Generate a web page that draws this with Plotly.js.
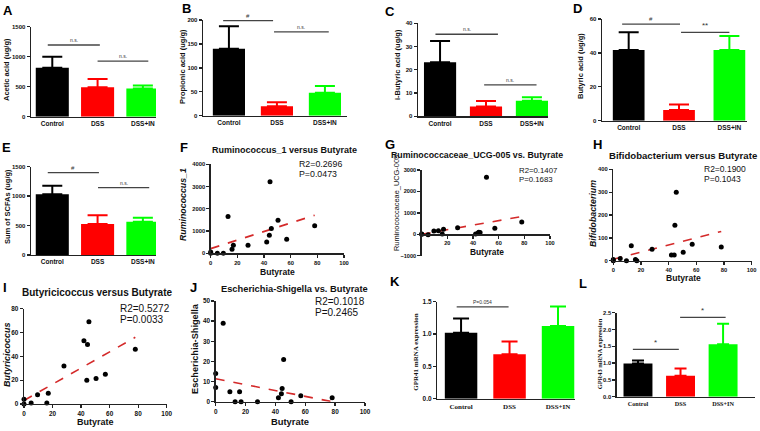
<!DOCTYPE html>
<html><head><meta charset="utf-8">
<script src="https://cdn.plot.ly/plotly-3.0.1.min.js"></script>
<style>html,body{margin:0;padding:0;background:#fff;}</style>
</head><body>
<div id="chart" style="width:760px;height:431px;"></div>
<script>
// ================= DATA =================
const groups = ['Control', 'DSS', 'DSS+IN'];
const groupColors = ['#000000', '#ff0000', '#00ff00'];

const aceticMean = [817, 489, 472];
const aceticSD = [183, 139, 50];
const propionicMean = [140, 20, 48];
const propionicSD = [47, 8, 14];
const isobutyricMean = [23.2, 4.2, 6.7];
const isobutyricSD = [9.2, 2.4, 1.5];
const butyricMean = [41.7, 6.3, 41.7];
const butyricSD = [10.5, 3.3, 8.3];
const scfaMean = [1030, 526, 566];
const scfaSD = [147, 148, 68];
const gpr41Mean = [1.02, 0.686, 1.124];
const gpr41SD = [0.22, 0.20, 0.30];
const gpr43Mean = [0.99, 0.625, 1.56];
const gpr43SD = [0.09, 0.215, 0.61];

// significance brackets: [fromIndex, toIndex, yValue, label]
const sigAcetic = [[-0.1, 1.05, 1195, 'n.s.'], [1.0, 2.12, 927, 'n.s.']];
const sigPropionic = [[-0.12, 0.92, 198.5, '#'], [0.94, 2.08, 175, 'n.s.']];
const sigIsobutyric = [[-0.1, 1.26, 35.3, 'n.s.'], [0.96, 2.1, 13.5, 'n.s.']];
const sigButyric = [[-0.13, 1.02, 57, '#'], [1.04, 2.0, 52.1, '**']];
const sigScfa = [[-0.1, 1.03, 1398, '#'], [1.01, 2.14, 1143, 'n.s.']];
const sigGpr41 = [[-0.09, 0.98, 1.42, 'P=0.054'], [0.98, 2.04, 1.526, '*']];
const sigGpr43 = [[-0.12, 0.96, 1.41, '*'], [0.99, 2.06, 2.36, '*']];

const butyrate = [0, 0, 5, 9.5, 13, 16, 17, 28, 42, 44, 44.5, 45.5, 50.5, 57, 78];
const ruminococcus1 = [0, 60, 0, 0, 1650, 180, 360, 360, 510, 810, 3220, 1110, 1480, 630, 1240];
const ucg005 = [10, 0, -20, 155, 170, 15, 230, 310, 15, 60, 90, 80, 2660, 280, 575];
const bifidobacterium = [0, 5, 10, 0, 65, 5, 0, 50, 25, 25, 155, 300, 37, 72, 60];
const butyricicoccus = [4, 0, 0.8, 7.8, null, 0.8, 9, 32, 53, 20, 50, 69, 21.5, 25, 46];
const escherichia = [14, 7, 39, 5, 0, 5, 0, 0, 2, 4, 6.6, 21, 0, 3, 2];

const fitX = [0, 78];
const fitRuminococcus1 = [210, 1710];
const fitUcg005 = [0, 830];
const fitBifidobacterium = [6, 128];
const fitButyricicoccus = [3, 56];
const fitEscherichia = [11.4, 0];

const statsRuminococcus1 = ['R2=0.2696', 'P=0.0473'];
const statsUcg005 = ['R2=0.1407', 'P=0.1683'];
const statsBifidobacterium = ['R2=0.1900', 'P=0.1043'];
const statsButyricicoccus = ['R2=0.5272', 'P=0.0033'];
const statsEscherichia = ['R2=0.1018', 'P=0.2465'];

const panelLetters = ['A', 'B', 'C', 'D', 'E', 'F', 'G', 'H', 'I', 'J', 'K', 'L'];

// ================= LAYOUT HELPERS =================
const W = 760, H = 431;
const SANS = 'Liberation Sans, Arial, sans-serif';
const SERIF = 'Liberation Serif, Times New Roman, serif';
const AX = '#222';
const xd = (a, b) => [a / W, b / W];
const yd = (top, bot) => [1 - bot / H, 1 - top / H];
const px = v => v / W;
const py = v => 1 - v / H;

const traces = [];
const layout = {
  width: W, height: H, margin: {l: 0, r: 0, t: 0, b: 0},
  paper_bgcolor: '#fff', plot_bgcolor: 'rgba(0,0,0,0)',
  showlegend: false, barmode: 'overlay',
  shapes: [], annotations: []
};

function note(text, x, y, size, opts) {
  layout.annotations.push(Object.assign({
    text: text, x: px(x), y: py(y), xref: 'paper', yref: 'paper',
    showarrow: false, xanchor: 'center', yanchor: 'middle',
    font: {family: SANS, size: size, color: '#111', weight: 'bold'}
  }, opts || {}));
}

function barPanel(n, cfg, mean, sd, sig) {
  const xa = 'x' + n, ya = 'y' + n;
  groups.forEach((g, i) => {
    traces.push({
      type: 'bar', x: [g], y: [mean[i]], width: [cfg.bw],
      marker: {color: groupColors[i], line: {width: 0}},
      error_y: {type: 'data', symmetric: false, array: [sd[i]], arrayminus: [0],
        color: groupColors[i], thickness: 2, width: cfg.cap},
      xaxis: xa, yaxis: ya, hoverinfo: 'skip'
    });
  });
  const tf = cfg.serif ? SERIF : SANS;
  layout['xaxis' + n] = {
    domain: xd(cfg.x[0], cfg.x[1]), range: cfg.xr, anchor: ya,
    type: 'category', categoryarray: groups, categoryorder: 'array',
    showline: true, linecolor: AX, linewidth: 1.4, ticks: '', showgrid: false, zeroline: false,
    tickfont: {family: tf, size: cfg.xfs, color: '#111', weight: 'bold'}, fixedrange: true
  };
  layout['yaxis' + n] = {
    domain: yd(cfg.y[0], cfg.y[1]), range: cfg.yr, anchor: xa, dtick: cfg.dtick,
    tickformat: cfg.fmt || '', showline: true, linecolor: AX, linewidth: 1.4,
    ticks: 'outside', ticklen: 3, tickwidth: 1.3, tickcolor: AX,
    showgrid: false, zeroline: false,
    tickfont: {family: SANS, size: cfg.yfs, color: '#111', weight: 'bold'}, fixedrange: true
  };
  sig.forEach(s => {
    layout.shapes.push({type: 'line', xref: xa, yref: ya, x0: s[0], x1: s[1], y0: s[2], y1: s[2],
      line: {color: '#444', width: 1.3}});
    const sz = s[3] === 'n.s.' ? 5 : (s[3] === 'P=0.054' ? 5 : (s[3] === '#' ? 6 : 8));
    layout.annotations.push({text: s[3], xref: xa, yref: ya, x: (s[0] + s[1]) / 2, y: s[2],
      showarrow: false, yanchor: 'bottom', yshift: 0,
      font: {family: SANS, size: sz, color: '#333'}});
  });
  note(cfg.title, cfg.tx, cfg.ty, cfg.tfs, {textangle: -90,
    font: {family: cfg.serif ? SERIF : SANS, size: cfg.tfs, color: '#111', weight: 'bold'}});
}

function scatterPanel(n, cfg, yv, fit, stats) {
  const xa = 'x' + n, ya = 'y' + n;
  traces.push({type: 'scatter', mode: 'lines', x: fitX, y: fit, xaxis: xa, yaxis: ya,
    line: {color: '#d42a2a', width: 1.6, dash: 'dash'}, hoverinfo: 'skip', cliponaxis: false});
  traces.push({type: 'scatter', mode: 'markers', x: butyrate, y: yv, xaxis: xa, yaxis: ya,
    marker: {color: '#000', size: 5}, hoverinfo: 'skip', cliponaxis: false});
  const ydom = yd(cfg.y[0], cfg.y[1]);
  const xaxis = {
    domain: xd(cfg.x[0], cfg.x[1]), range: [0, 100], dtick: 20, anchor: ya,
    showline: true, linecolor: AX, linewidth: 1.4, ticks: 'outside', ticklen: 3, tickwidth: 1.3,
    tickcolor: AX, showgrid: false, zeroline: false,
    tickfont: {family: SANS, size: cfg.fs, color: '#111', weight: 'bold'}, fixedrange: true
  };
  if (cfg.yr[0] < 0) {
    xaxis.anchor = 'free';
    xaxis.position = ydom[0] + (0 - cfg.yr[0]) / (cfg.yr[1] - cfg.yr[0]) * (ydom[1] - ydom[0]);
    xaxis.tickvals = [20, 40, 60, 80, 100];
  }
  layout['xaxis' + n] = xaxis;
  layout['yaxis' + n] = {
    domain: ydom, range: cfg.yr, dtick: cfg.dtick, anchor: xa,
    showline: true, linecolor: AX, linewidth: 1.4, ticks: 'outside', ticklen: 3, tickwidth: 1.3,
    tickcolor: AX, showgrid: false, zeroline: false,
    tickfont: {family: SANS, size: cfg.fs, color: '#111', weight: 'bold'}, fixedrange: true
  };
  note(cfg.title, cfg.titleX, cfg.titleY, cfg.titleSize);
  note('Butyrate', cfg.xtX, cfg.xtY, cfg.xtSize);
  note(cfg.ytitle, cfg.ytX, cfg.ytY, cfg.ytSize, {textangle: -90,
    font: {family: SANS, size: cfg.ytSize, color: '#111', weight: cfg.ytWeight || 'bold',
      style: cfg.ytItalic ? 'italic' : 'normal'}});
  note(stats[0], cfg.sx, cfg.sy[0], cfg.ss, {xanchor: 'left',
    font: {family: SANS, size: cfg.ss, color: '#111'}});
  note(stats[1], cfg.sx, cfg.sy[1], cfg.ss, {xanchor: 'left',
    font: {family: SANS, size: cfg.ss, color: '#111'}});
}

// ================= PANELS =================
barPanel(1, {x: [31, 156], y: [26.7, 116.7], xr: [-0.47, 2.29], yr: [0, 1500], dtick: 500,
  bw: 0.73, cap: 10, xfs: 6.5, yfs: 6, title: 'Acetic acid (ug/g)', tx: 7, ty: 70, tfs: 7.5},
  aceticMean, aceticSD, sigAcetic);
barPanel(2, {x: [203, 347], y: [20, 115.7], xr: [-0.54, 2.46], yr: [0, 200], dtick: 50,
  bw: 0.67, cap: 10, xfs: 6.5, yfs: 6, title: 'Propionic acid (ug/g)', tx: 183, ty: 67, tfs: 7.5},
  propionicMean, propionicSD, sigPropionic);
barPanel(3, {x: [418, 548], y: [23.3, 116.3], xr: [-0.48, 2.35], yr: [0, 40], dtick: 10,
  bw: 0.7, cap: 10, xfs: 6.5, yfs: 6, title: 'i-Butyric acid (ug/g)', tx: 398, ty: 65, tfs: 7.5},
  isobutyricMean, isobutyricSD, sigIsobutyric);
barPanel(4, {x: [602, 747], y: [19, 120.7], xr: [-0.53, 2.35], yr: [0, 60], dtick: 20,
  bw: 0.63, cap: 10, xfs: 6.5, yfs: 6, title: 'Butyric acid (ug/g)', tx: 580, ty: 66, tfs: 7.5},
  butyricMean, butyricSD, sigButyric);
barPanel(5, {x: [31, 156], y: [166.7, 255], xr: [-0.47, 2.29], yr: [0, 1500], dtick: 500,
  bw: 0.73, cap: 10, xfs: 6.5, yfs: 6, title: 'Sum of SCFAs (ug/g)', tx: 7, ty: 207, tfs: 7.5},
  scfaMean, scfaSD, sigScfa);
barPanel(11, {x: [437.3, 575], y: [301.7, 398.7], xr: [-0.49, 2.35], yr: [0, 1.5], dtick: 0.5, fmt: '.1f',
  bw: 0.67, cap: 8, xfs: 7, yfs: 6.5, serif: true, title: 'GPR41 mRNA expression', tx: 415.7, ty: 352, tfs: 7},
  gpr41Mean, gpr41SD, sigGpr41);
barPanel(12, {x: [616.7, 755], y: [312.7, 396.7], xr: [-0.5, 2.75], yr: [0, 2.5], dtick: 0.5, fmt: '.1f',
  bw: 0.68, cap: 6, xfs: 6.2, yfs: 5.8, serif: true, title: 'GPR43 mRNA expression', tx: 599.3, ty: 354, tfs: 6.4},
  gpr43Mean, gpr43SD, sigGpr43);

scatterPanel(6, {x: [210.7, 344], y: [164.3, 253.3], yr: [0, 4000], dtick: 1000, fs: 5.8,
  title: 'Ruminococcus_1 versus Butyrate', titleX: 284, titleY: 150, titleSize: 9,
  xtX: 277, xtY: 271.7, xtSize: 8.6, ytitle: 'Ruminococcus_1', ytX: 183, ytY: 205, ytSize: 8.8, ytItalic: true,
  sx: 297, sy: [164, 174.5], ss: 8.8}, ruminococcus1, fitRuminococcus1, statsRuminococcus1);
scatterPanel(7, {x: [421.7, 550], y: [170, 255.7], yr: [-1000, 3000], dtick: 1000, fs: 5.6,
  title: 'Ruminococcaceae_UCG-005 vs. Butyrate', titleX: 477, titleY: 155, titleSize: 8.8,
  xtX: 487, xtY: 251.7, xtSize: 8.4, ytitle: 'Ruminococcaceae_UCG-005', ytX: 397, ytY: 203, ytSize: 7.4, ytWeight: 'normal',
  sx: 517, sy: [170.5, 179.5], ss: 7.8}, ucg005, fitUcg005, statsUcg005);
scatterPanel(8, {x: [613.3, 751.7], y: [169.3, 260.7], yr: [0, 400], dtick: 100, fs: 5.8,
  title: 'Bifidobacterium versus Butyrate', titleX: 683, titleY: 155, titleSize: 9.6,
  xtX: 683, xtY: 278, xtSize: 8.6, ytitle: 'Bifidobacterium', ytX: 593, ytY: 214, ytSize: 8.8, ytItalic: true,
  sx: 701.7, sy: [169.5, 179], ss: 8.5}, bifidobacterium, fitBifidobacterium, statsBifidobacterium);
scatterPanel(9, {x: [24, 166.7], y: [308.7, 404], yr: [0, 80], dtick: 20, fs: 6.4,
  title: 'Butyricicoccus versus Butyrate', titleX: 97, titleY: 292, titleSize: 10,
  xtX: 95, xtY: 421.7, xtSize: 9, ytitle: 'Butyricicoccus', ytX: 7, ytY: 355, ytSize: 9, ytItalic: true,
  sx: 118, sy: [308.5, 319], ss: 10}, butyricicoccus, fitButyricicoccus, statsButyricicoccus);
scatterPanel(10, {x: [215.7, 365], y: [301, 401.7], yr: [0, 50], dtick: 10, fs: 6.4,
  title: 'Escherichia-Shigella vs. Butyrate', titleX: 294, titleY: 289, titleSize: 9.3,
  xtX: 290, xtY: 421, xtSize: 9.4, ytitle: 'Escherichia-Shigella', ytX: 195, ytY: 349, ytSize: 9.2,
  sx: 312.7, sy: [301.5, 312], ss: 10}, escherichia, fitEscherichia, statsEscherichia);

// panel letters (pixel positions)
const letterPos = [[8, 10], [186, 9], [390, 12], [577, 9], [6, 147], [184, 147],
  [390, 144], [597, 144], [5, 287], [193, 287], [395, 281], [583, 283]];
panelLetters.forEach((t, i) => note(t, letterPos[i][0], letterPos[i][1], 13,
  {font: {family: SANS, size: 13, color: '#000', weight: 'bold'}}));

Plotly.newPlot('chart', traces, layout, {displayModeBar: false, staticPlot: true});
</script>
</body></html>
